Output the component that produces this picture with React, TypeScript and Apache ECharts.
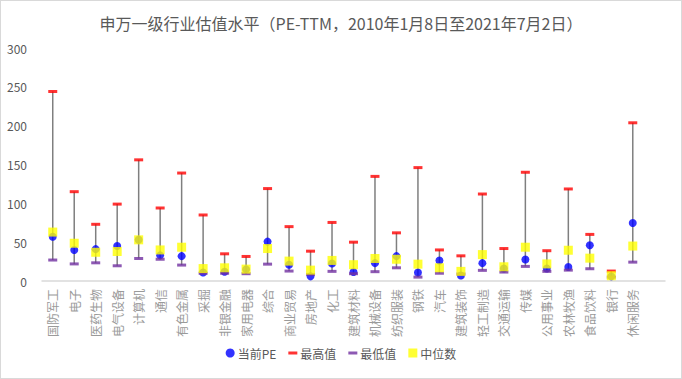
import React, { useEffect, useRef } from "react";
import * as echarts from "echarts";

const categories = [
  "国防军工", "电子", "医药生物", "电气设备", "计算机", "通信", "有色金属", "采掘", "非银金融", "家用电器",
  "综合", "商业贸易", "房地产", "化工", "建筑材料", "机械设备", "纺织服装", "钢铁", "汽车", "建筑装饰",
  "轻工制造", "交通运输", "传媒", "公用事业", "农林牧渔", "食品饮料", "银行", "休闲服务", "",
];
const currentPE = [57, 40, 41, 45, 53, 33, 32, 11, 12, 15, 50.7, 21, 6, 22.6, 11.5, 23, 32, 11, 26.5, 7, 23, 16, 27.7, 16, 18, 46, 6, 74.6];
const maxPE = [244, 115, 73, 99, 156, 94, 139, 85, 35, 31.6, 119, 70, 38.4, 75.4, 50, 134.7, 62, 146, 40, 32.4, 112, 41.8, 140, 39, 118.5, 60, 12.8, 203.7];
const minPE = [27, 22, 23.4, 19.6, 29, 28, 20.5, 10, 10, 9.4, 21.7, 12.8, 8.5, 12.4, 9.4, 12, 17, 5, 10, 9, 13.7, 11.5, 18.8, 12.4, 14, 15.8, 5, 24.3];
const medianPE = [63, 48.6, 37, 38, 53, 40, 43.5, 16, 17, 15.3, 41.8, 25.6, 14, 26.5, 21, 29, 28, 21.7, 17, 12.4, 34, 18.3, 43.5, 22, 39.6, 29.4, 6.8, 45];
const yTicks = { min: 0, max: 300, interval: 50 };

const FONT = '"Noto Sans CJK SC", "Noto Sans", sans-serif';
const dashIcon = "path://M0,0M0,3h9v3h-9zM9,9";

export default function App() {
  const ref = useRef<HTMLDivElement>(null);
  useEffect(() => {
    document.body.style.margin = "0";
    const chart = echarts.init(ref.current!, null, { renderer: "svg" });
    const rangeData = minPE.map((v, i) => [i, v, maxPE[i]]);
    chart.setOption({
      animation: false,
      backgroundColor: "#ffffff",
      textStyle: { fontFamily: FONT },
      title: {
        text: "申万一级行业估值水平（PE-TTM，2010年1月8日至2021年7月2日）",
        left: "center",
        top: 9,
        textStyle: { fontFamily: FONT, fontSize: 16, fontWeight: "normal", color: "#595959" },
      },
      legend: {
        bottom: 14,
        left: "center",
        itemWidth: 9,
        itemHeight: 9,
        itemGap: 12,
        textStyle: { fontFamily: FONT, fontSize: 12, color: "#595959", padding: [0, 0, 0, -2] },
        data: [
          { name: "当前PE", icon: "circle" },
          { name: "最高值", icon: dashIcon },
          { name: "最低值", icon: dashIcon },
          { name: "中位数", icon: "rect" },
        ],
      },
      grid: { left: 41, right: 16, top: 47, bottom: 97 },
      xAxis: {
        type: "category",
        data: categories,
        axisLine: { lineStyle: { color: "#d9d9d9", width: 1.5 } },
        axisTick: { show: false },
        axisLabel: { rotate: 90, interval: 0, fontSize: 12, color: "#9a9a9a", margin: 8, fontFamily: FONT },
      },
      yAxis: {
        type: "value",
        min: yTicks.min,
        max: yTicks.max,
        interval: yTicks.interval,
        splitLine: { show: false },
        axisLine: { show: false },
        axisTick: { show: false },
        axisLabel: { fontSize: 12, color: "#595959", margin: 15, fontFamily: FONT },
      },
      series: [
        {
          type: "custom",
          name: "range",
          silent: true,
          data: rangeData,
          encode: { x: 0, y: [1, 2] },
          renderItem: (params: any, api: any) => {
            const p1 = api.coord([api.value(0), api.value(1)]);
            const p2 = api.coord([api.value(0), api.value(2)]);
            return {
              type: "line",
              shape: { x1: p1[0], y1: p1[1], x2: p2[0], y2: p2[1] },
              style: { stroke: "#7f7f7f", lineWidth: 1.5 },
            };
          },
          z: 1,
        },
        {
          name: "当前PE",
          type: "scatter",
          data: currentPE,
          symbol: "circle",
          symbolSize: 8,
          itemStyle: { color: "#0000ff" },
          z: 2,
        },
        {
          name: "最高值",
          type: "scatter",
          data: maxPE,
          symbol: "rect",
          symbolSize: [9, 3],
          itemStyle: { color: "#ff0000" },
          z: 3,
        },
        {
          name: "最低值",
          type: "scatter",
          data: minPE,
          symbol: "rect",
          symbolSize: [9, 3],
          itemStyle: { color: "#7030a0" },
          z: 4,
        },
        {
          name: "中位数",
          type: "scatter",
          data: medianPE,
          symbol: "rect",
          symbolSize: 9,
          itemStyle: { color: "#ffff00" },
          z: 5,
        },
      ],
    });
    return () => chart.dispose();
  }, []);
  return (
    <div
      style={{
        position: "fixed",
        left: 0,
        top: 0,
        width: 682,
        height: 379,
        boxSizing: "border-box",
        border: "1px solid #d9d9d9",
        background: "#fff",
      }}
    >
      <div ref={ref} style={{ width: 680, height: 377 }} />
    </div>
  );
}
